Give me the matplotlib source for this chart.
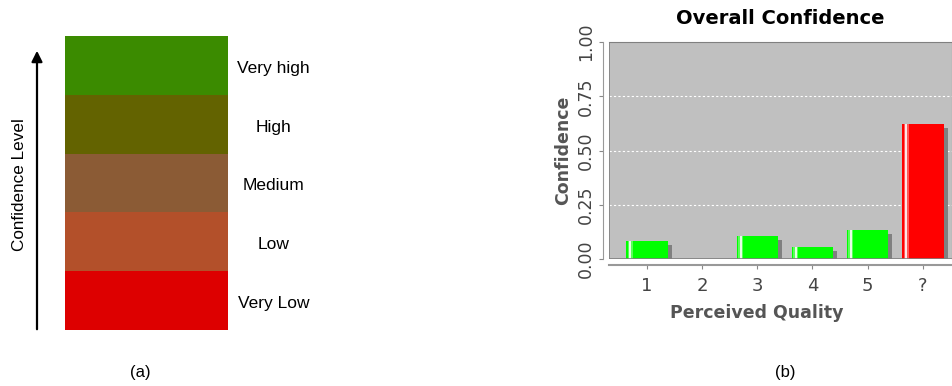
"""
Figura: (a) escala de níveis de confiança, (b) gráfico de barras Overall Confidence.
"""

import matplotlib
matplotlib.use('Agg')
import matplotlib.pyplot as plt
import numpy as np
from matplotlib.patches import FancyArrowPatch
from matplotlib.transforms import ScaledTranslation

# --- dados (a) ---
niveis = ['Very Low', 'Low', 'Medium', 'High', 'Very high']
cores_niveis = ['#dd0000', '#b3502a', '#8b5b35', '#636300', '#3b8b00']

# --- dados (b) ---
categorias = ['1', '2', '3', '4', '5', '?']
confianca = [0.083, 0.0, 0.106, 0.057, 0.135, 0.622]
cores_barras = ['#00ff00', '#00ff00', '#00ff00', '#00ff00', '#00ff00', '#ff0000']
yticks = [0.00, 0.25, 0.50, 0.75, 1.00]

W, H = 952, 386
fig = plt.figure(figsize=(W / 100, H / 100), dpi=100)


def fx(px):
    return px / W


def fy(py):
    return 1 - py / H


# ---------------- (a) ----------------
ax_a = fig.add_axes([fx(65), fy(330), fx(163), 294 / H])
ax_a.bar(np.zeros(len(niveis)), np.ones(len(niveis)), width=1.0,
         bottom=np.arange(len(niveis)), color=cores_niveis, edgecolor='none')
ax_a.set_xlim(-0.5, 0.5)
ax_a.set_ylim(0, len(niveis))
ax_a.axis('off')

for i, nome in enumerate(niveis):
    ax_a.text(1.28, (i + 0.5) / len(niveis) - 0.01, nome, transform=ax_a.transAxes,
              ha='center', va='center', fontsize=12.5, family='Liberation Sans')

# seta "Confidence Level"
fig.patches.append(FancyArrowPatch(
    (fx(37), fy(332)), (fx(37), fy(48)), transform=fig.transFigure,
    arrowstyle='-|>', mutation_scale=16, lw=1.6, color='black'))
fig.text(fx(20), fy(185), 'Confidence Level', rotation=90, ha='center',
         va='center', fontsize=12.3, family='Liberation Sans')

fig.text(fx(140), fy(373), '(a)', ha='center', va='center', fontsize=12,
         family='Liberation Sans')

# ---------------- (b) ----------------
ax_b = fig.add_axes([fx(609), fy(259), fx(343), 217 / H])
ax_b.set_facecolor('#c0c0c0')
x = np.arange(len(categorias))
largura = 0.755

# sombra deslocada
sombra = ScaledTranslation(4 / 100, -4 / 100, fig.dpi_scale_trans)
ax_b.bar(x, confianca, width=largura, color='#808080', edgecolor='none',
         transform=ax_b.transData + sombra, zorder=2)
ax_b.bar(x, confianca, width=largura, color=cores_barras, edgecolor='none',
         zorder=3)
# brilho perto da borda esquerda
esq = x - largura / 2
ax_b.bar(esq + 0.075, confianca, width=0.09, color='white', alpha=0.35,
         edgecolor='none', zorder=4)
ax_b.bar(esq + 0.075, confianca, width=0.035, color='white', alpha=0.85,
         edgecolor='none', zorder=5)

ax_b.set_xlim(-0.69, 5.53)
ax_b.set_ylim(0, 1.0)
ax_b.set_yticks(yticks)
ax_b.set_yticklabels([f'{v:.2f}' for v in yticks])
ax_b.set_xticks(x)
ax_b.set_xticklabels(categorias)

for v in yticks[1:-1]:
    ax_b.axhline(v, color='white', lw=0.8, ls=(0, (2, 2)), zorder=1)

for s in ['top', 'right']:
    ax_b.spines[s].set_color('#808080')
ax_b.spines['left'].set_position(('outward', 4))
ax_b.spines['bottom'].set_position(('outward', 4))
ax_b.spines['left'].set_color('#999999')
ax_b.spines['bottom'].set_color('#999999')
ax_b.spines['bottom'].set_linewidth(1.5)
ax_b.tick_params(axis='both', colors='#888888', length=3, labelcolor='#444444')
ax_b.tick_params(axis='x', pad=6, labelsize=13)
ax_b.tick_params(axis='y', pad=3, labelsize=12.5, labelrotation=90)
for lbl in ax_b.get_yticklabels():
    lbl.set_va('center')
# borda do plot
ax_b.axvline(-0.69, color='#808080', lw=1.2, zorder=6)
ax_b.axhline(0, color='#808080', lw=1.2, zorder=6)

ax_b.set_title('Overall Confidence', fontsize=14, fontweight='bold', pad=13)
ax_b.set_ylabel('Confidence', fontsize=12.5, fontweight='bold', color='#555555')
ax_b.yaxis.set_label_coords((572 - 609) / 343, 0.5)
ax_b.set_xlabel('Perceived Quality', fontsize=12.5, fontweight='bold',
                color='#555555')
ax_b.xaxis.set_label_coords((757 - 609) / 343, (259 - 304) / 217)

fig.text(fx(785), fy(373), '(b)', ha='center', va='center', fontsize=12,
         family='Liberation Sans')

fig.savefig('out.png', dpi=100)
